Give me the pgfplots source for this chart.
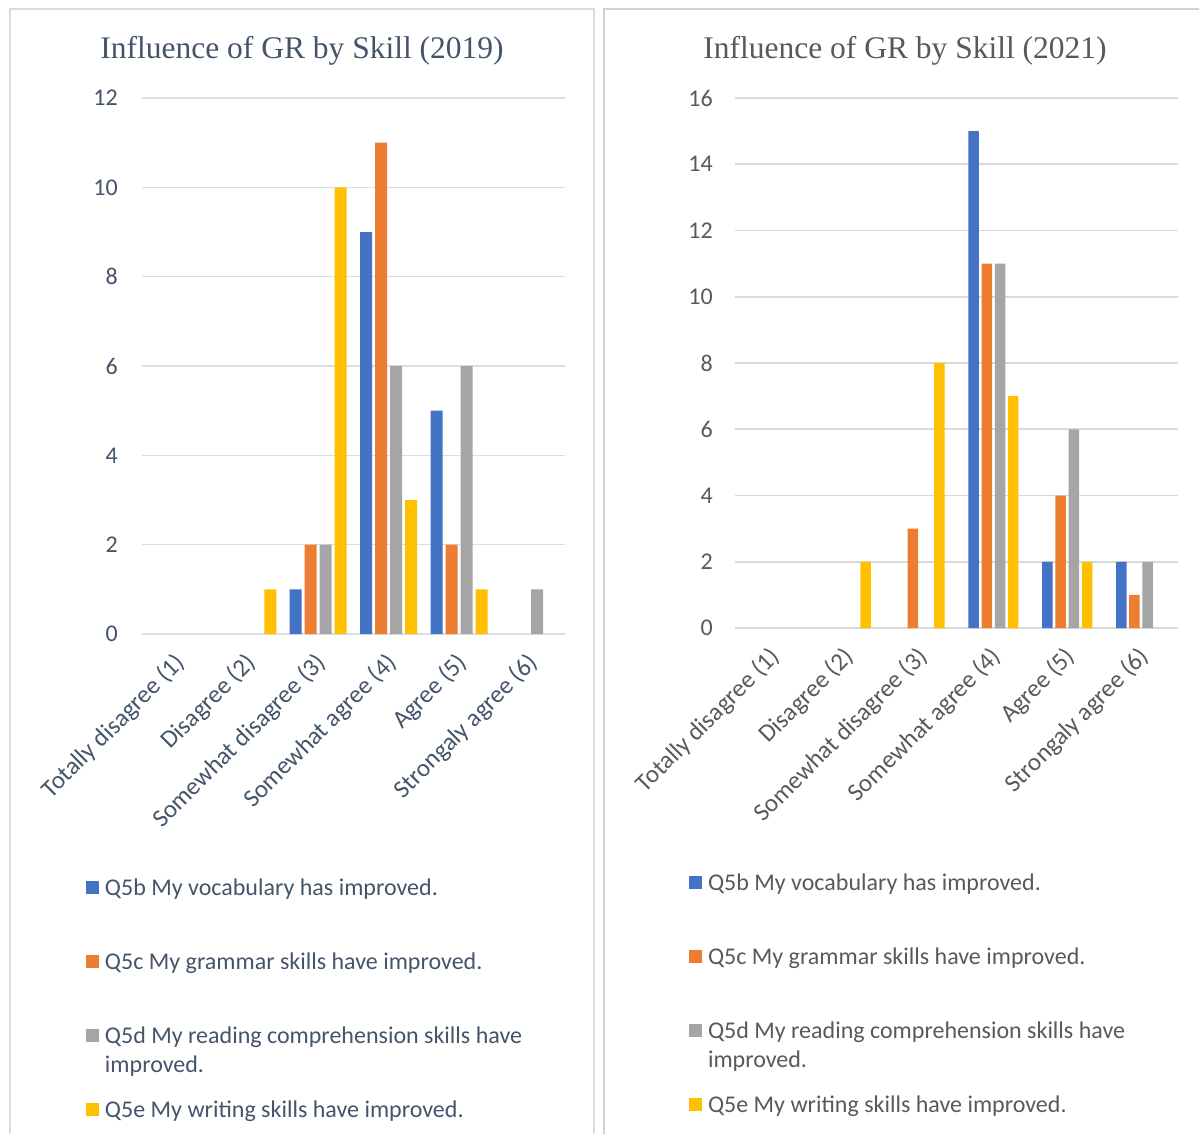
\documentclass[border=0pt]{standalone}
\usepackage{pgfplots}
\pgfplotsset{compat=1.18}
\usepackage{fontspec}
\setmainfont{Carlito}
\newfontfamily\titlefont{Liberation Serif}

\definecolor{qblue}{HTML}{4472C4}
\definecolor{qorange}{HTML}{ED7D31}
\definecolor{qgray}{HTML}{A5A5A5}
\definecolor{qgold}{HTML}{FFC000}
\definecolor{slate}{HTML}{44546A}
\definecolor{darkgray}{HTML}{595959}
\definecolor{gridslate}{RGB}{218,223,231}
\definecolor{gridgray}{RGB}{217,217,217}
\definecolor{frameslate}{RGB}{214,220,229}
\definecolor{framegray}{RGB}{208,208,208}

\newcommand{\bigtext}{\fontsize{24}{29}\selectfont}
\newcommand{\labeltext}{\fontsize{25}{30}\selectfont}

\pgfplotsset{
  likert/.style={
    scale only axis,
    anchor=south west,
    ybar,
    xmin=-0.5, xmax=5.5, ymin=0,
    xtick={0,...,5},
    xticklabels={Totally disagree (1), Disagree (2), Somewhat disagree (3),
                 Somewhat agree (4), Agree (5), Strongaly agree (6)},
    axis line style={draw=none},
    major tick length=0pt,
    ymajorgrids,
    % empty categories draw no bar at all
    unbounded coords=discard,
    y filter/.expression={y==0 ? nan : y},
    /pgf/number format/assume math mode=true,
    tick label style={font=\bigtext},
    xticklabel style={font=\labeltext, inner sep=0pt,
      xshift=4pt, yshift=-25pt, rotate=45, anchor=east},
    yticklabel style={anchor=east, inner sep=0pt},
    legend style={draw=none, fill=none, inner sep=0pt, outer sep=0pt,
      anchor=north west, row sep=0pt, column sep=6pt, font=\bigtext,
      cells={anchor=base west},
      nodes={inner sep=0pt, text height=20pt, text depth=54pt}},
  },
  sq/.style={draw=none, fill=#1,
    legend image code/.code={\fill[#1] (0pt,1pt) rectangle (13pt,14pt);}},
}

\begin{document}
\begin{tikzpicture}[x=1pt,y=1pt]
\useasboundingbox (0,0) rectangle (1199,-1133);

% panel frames
\draw[frameslate, line width=2pt] (10,-1160) -- (10,-9) -- (594,-9) -- (594,-1160);
\draw[framegray, line width=2pt] (604,-1160) -- (604,-9) -- (1220,-9);

% titles
\node[font=\titlefont\fontsize{31.5}{36}\selectfont, text=slate] at (302,-51) {Influence of GR by Skill (2019)};
\node[font=\titlefont\fontsize{31.5}{36}\selectfont, text=darkgray] at (905,-51) {Influence of GR by Skill (2021)};

% 2019
\begin{axis}[likert,
  at={(142pt,-634pt)}, width=423pt, height=536pt,
  ymax=12, ytick={0,2,...,12},
  bar width=12pt,
  major grid style={draw=gridslate, line width=1.6pt},
  tick label style={text=slate},
  yticklabel style={xshift=-24pt},
  legend style={text=slate, at={(axis description cs:-0.1324,-0.4497)}},
]
\addplot[sq=qblue, bar shift=-22.5pt] coordinates {(0,0) (1,0) (2,1) (3,9) (4,5) (5,0)};
\addlegendentry{Q5b My vocabulary has improved.}
\addplot[sq=qorange, bar shift=-7.5pt] coordinates {(0,0) (1,0) (2,2) (3,11) (4,2) (5,0)};
\addlegendentry{Q5c My grammar skills have improved.}
\addplot[sq=qgray, bar shift=7.5pt] coordinates {(0,0) (1,0) (2,2) (3,6) (4,6) (5,1)};
\addlegendentry{\vtop{\hbox{Q5d My reading comprehension skills have}\hbox{improved.}}}
\addplot[sq=qgold, bar shift=22.5pt] coordinates {(0,0) (1,1) (2,10) (3,3) (4,1) (5,0)};
\addlegendentry{Q5e My writing skills have improved.}
\end{axis}

% 2021
\begin{axis}[likert,
  at={(735pt,-628pt)}, width=443pt, height=530pt,
  ymax=16, ytick={0,2,...,16},
  bar width=10.5pt,
  major grid style={draw=gridgray, line width=1.6pt},
  tick label style={text=darkgray},
  yticklabel style={xshift=-22pt},
  legend style={text=darkgray, at={(axis description cs:-0.1038,-0.4566)}},
]
\addplot[sq=qblue, bar shift=-19.8pt] coordinates {(0,0) (1,0) (2,0) (3,15) (4,2) (5,2)};
\addlegendentry{Q5b My vocabulary has improved.}
\addplot[sq=qorange, bar shift=-6.6pt] coordinates {(0,0) (1,0) (2,3) (3,11) (4,4) (5,1)};
\addlegendentry{Q5c My grammar skills have improved.}
\addplot[sq=qgray, bar shift=6.6pt] coordinates {(0,0) (1,0) (2,0) (3,11) (4,6) (5,2)};
\addlegendentry{\vtop{\hbox{Q5d My reading comprehension skills have}\hbox{improved.}}}
\addplot[sq=qgold, bar shift=19.8pt] coordinates {(0,0) (1,2) (2,8) (3,7) (4,2) (5,0)};
\addlegendentry{Q5e My writing skills have improved.}
\end{axis}
\end{tikzpicture}
\end{document}
